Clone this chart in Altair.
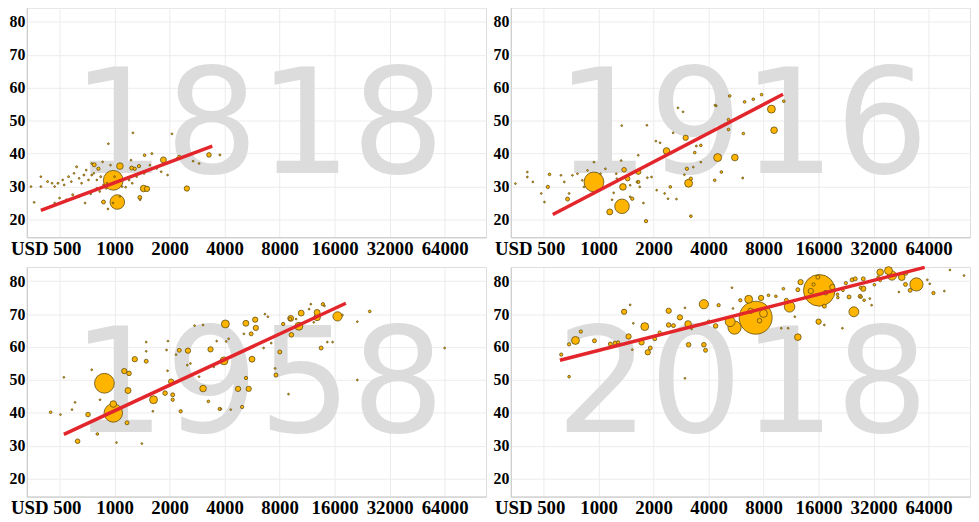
import altair as alt
import pandas as pd

years = ["1818", "1916", "1958", "2018"]
x_ticks = [500, 1000, 2000, 4000, 8000, 16000, 32000, 64000]
y_ticks = [20, 30, 40, 50, 60, 70, 80]

# (income USD, life expectancy, population in millions)
pts_1818 = [
    (984, 31.9, 500), (1035, 25.3, 270), (1070, 36.2, 56), (774, 36.6, 20), (816, 35.4, 14),
    (1443, 29.4, 56), (1505, 29.3, 36), (1851, 38.1, 45), (2487, 29.4, 36), (3285, 39.6, 27),
    (2260, 39.0, 14), (870, 25.3, 20), (1375, 26.7, 20), (1240, 35.6, 20), (1290, 35.4, 14),
    (1360, 36.2, 14), (1460, 39.5, 9),
    (1260, 46.3, 4), (2060, 46.0, 4), (925, 43.0, 4), (3770, 39.6, 5), (2690, 37.7, 4),
    (349, 30.0, 4), (363, 25.2, 4), (395, 33.0, 4), (395, 30.0, 4), (430, 31.5, 5),
    (455, 31.0, 4), (470, 30.0, 4), (490, 31.0, 5), (520, 32.0, 4), (530, 30.5, 4),
    (560, 33.0, 5), (580, 31.5, 4), (600, 34.0, 4), (620, 36.0, 5), (640, 32.5, 4),
    (660, 31.0, 4), (680, 33.5, 5), (700, 35.0, 4), (720, 32.0, 4), (750, 33.5, 5),
    (770, 34.0, 4), (800, 32.0, 4), (840, 33.0, 5), (870, 30.5, 4), (910, 31.0, 4),
    (470, 25.0, 4), (500, 26.5, 4), (545, 26.0, 4), (590, 27.5, 5), (640, 27.0, 4),
    (690, 25.0, 4), (740, 27.8, 4), (800, 29.5, 4), (830, 28.5, 4), (900, 29.5, 5),
    (920, 23.2, 4), (980, 25.0, 4), (1070, 27.0, 4), (1150, 29.8, 4), (1200, 32.0, 5),
    (1320, 33.0, 4), (1380, 26.0, 4), (1450, 34.0, 5), (1560, 36.5, 4), (1700, 35.5, 4),
    (1800, 34.5, 4), (1950, 33.5, 4), (2200, 38.5, 5), (2900, 37.0, 4), (750, 37.0, 4),
    (1100, 30.0, 4), (1250, 31.0, 4), (950, 36.5, 4), (1000, 33.0, 4), (860, 37.5, 4),
    (1230, 38.0, 4), (1600, 40.0, 5),
]

pts_1916 = [
    (944, 31.4, 500), (1344, 24.0, 270), (1152, 22.3, 45), (1360, 29.9, 56), (1380, 35.1, 27),
    (1443, 32.4, 27), (1651, 34.5, 36), (1530, 26.3, 14), (2355, 40.8, 56), (2998, 44.8, 36),
    (3110, 31.0, 80), (3045, 35.4, 14), (3200, 21.0, 9), (1820, 19.5, 14), (4485, 38.8, 80),
    (5570, 38.8, 56), (8830, 53.5, 80), (9130, 47.1, 56), (677, 26.2, 20), (528, 29.9, 14),
    (2470, 29.9, 9), (5140, 50.3, 9), (5140, 47.3, 9), (4700, 34.4, 9), (4320, 31.9, 9),
    (6300, 55.7, 9), (7030, 56.5, 9), (7800, 57.9, 9), (10320, 55.9, 9), (5220, 57.5, 9),
    (4400, 54.5, 5), (6200, 46.1, 9), (6150, 32.6, 5), (3360, 40.3, 9), (3630, 42.5, 9),
    (3430, 42.3, 5), (1650, 31.4, 14), (3200, 32.4, 14), (539, 33.7, 9),
    (2720, 53.9, 4), (2560, 46.3, 4), (2060, 43.8, 4), (2170, 43.3, 4), (1840, 48.6, 4),
    (1340, 48.5, 4), (1650, 39.5, 4), (1330, 37.9, 4), (1260, 32.4, 4), (1210, 28.1, 4),
    (1490, 26.9, 4), (1760, 25.0, 4), (1850, 32.7, 4), (2080, 28.9, 4), (2300, 27.9, 4),
    (2670, 26.2, 4), (2400, 26.3, 4), (2950, 33.6, 4), (3300, 35.9, 4), (3630, 37.4, 4),
    (408, 34.4, 4), (408, 32.9, 4), (437, 31.4, 4), (351, 30.9, 4), (486, 27.9, 4),
    (506, 25.3, 4), (623, 33.4, 4), (650, 31.4, 4), (690, 27.9, 4), (720, 33.4, 4),
    (767, 33.9, 4), (815, 31.9, 4), (833, 29.9, 4), (870, 34.9, 4), (944, 37.4, 4),
    (1025, 33.9, 4), (1090, 35.4, 4), (1140, 30.4, 4), (1185, 26.0, 4), (1250, 33.9, 4),
    (1490, 30.4, 4), (1620, 31.4, 4), (1950, 32.9, 4), (1680, 29.9, 4), (2900, 52.7, 4),
    (4340, 54.7, 5),
]

pts_1958 = [
    (880, 49.0, 500), (984, 40.0, 436), (984, 42.7, 56), (1130, 52.7, 36), (1200, 52.0, 27),
    (1185, 46.8, 45), (1290, 56.3, 36), (1170, 37.0, 20), (716, 39.5, 27), (628, 31.4, 27),
    (1634, 44.0, 80), (1490, 55.7, 20), (1890, 46.0, 27), (2040, 49.5, 36), (2080, 45.5, 20),
    (2260, 59.0, 20), (2520, 58.9, 36), (3050, 47.4, 56), (3350, 59.3, 36), (3970, 55.8, 80),
    (4040, 67.0, 80), (5230, 67.2, 45), (5880, 68.3, 36), (5930, 65.8, 36), (5650, 56.3, 45),
    (5420, 47.3, 36), (4740, 47.3, 36), (5240, 50.6, 14), (4990, 41.8, 14), (5590, 64.0, 20),
    (9200, 68.7, 45), (9280, 63.7, 27), (10200, 66.3, 80), (10500, 70.3, 45), (12830, 69.0, 56),
    (12830, 70.5, 45), (16600, 69.3, 109), (7640, 51.5, 20), (8020, 58.5, 20), (13500, 59.7, 20),
    (8370, 67.0, 14), (9140, 68.5, 14), (3760, 41.2, 14), (2300, 40.5, 14), (2080, 44.0, 14),
    (3260, 43.5, 9), (805, 33.6, 9), (447, 40.2, 9), (13800, 73.0, 14), (24900, 70.8, 9),
    (608, 43.2, 4), (506, 39.5, 4), (528, 50.8, 4), (585, 41.0, 4), (750, 53.1, 4),
    (833, 44.0, 4), (1025, 31.0, 4), (1410, 30.7, 4), (1490, 61.5, 4), (1490, 58.7, 4),
    (1620, 40.5, 4), (1925, 59.1, 4), (1960, 61.8, 4), (1950, 52.8, 4), (2170, 57.7, 4),
    (2740, 66.5, 4), (3050, 66.7, 4), (2500, 54.5, 4), (2600, 55.0, 4), (2900, 51.0, 4),
    (3490, 54.0, 4), (3620, 61.8, 4), (4080, 61.7, 4), (4210, 62.5, 4), (3820, 41.2, 4),
    (4320, 41.0, 4), (5100, 64.0, 4), (6540, 59.7, 4), (6900, 69.2, 4), (7200, 61.2, 4),
    (6650, 70.0, 4), (7560, 53.5, 4), (8950, 45.7, 4), (9850, 68.5, 4), (11600, 71.5, 4),
    (11850, 73.0, 4), (14070, 72.5, 4), (14600, 61.5, 4), (15600, 61.5, 4), (21300, 67.7, 4),
    (21300, 50.0, 4), (64000, 59.7, 4), (17650, 69.7, 4), (12300, 67.5, 4),
]

pts_2018 = [
    (7240, 68.9, 1390), (16140, 77.2, 1280), (5550, 65.9, 222), (5250, 67.7, 125), (6630, 74.5, 80),
    (7990, 70.2, 80), (7750, 74.9, 36), (3770, 73.0, 109), (3090, 67.0, 56), (3110, 60.7, 27),
    (3770, 60.7, 27), (3850, 59.0, 20), (2790, 69.0, 36), (2420, 71.0, 36), (2420, 66.7, 27),
    (2570, 66.5, 20), (1790, 66.2, 80), (1720, 61.4, 36), (1860, 58.4, 36), (1920, 59.7, 20),
    (2030, 62.5, 20), (2160, 64.4, 14), (1380, 70.7, 36), (1460, 63.2, 36), (1230, 61.2, 20),
    (1160, 60.9, 20), (1280, 61.4, 14), (950, 61.9, 20), (748, 62.0, 80), (690, 60.8, 14),
    (800, 64.7, 14), (625, 57.7, 14), (690, 51.0, 9),
    (1490, 72.8, 4), (1550, 67.2, 4), (1530, 59.2, 4), (2970, 50.5, 4), (2970, 71.9, 4),
    (3230, 65.5, 4), (4010, 67.7, 14), (4370, 66.4, 27), (4540, 72.7, 14), (5370, 78.0, 4),
    (5440, 71.7, 4), (5970, 74.2, 14), (8510, 75.7, 9), (9340, 75.4, 9), (10270, 77.7, 9),
    (10660, 74.2, 20), (11100, 72.2, 142), (12320, 63.0, 56), (12320, 77.4, 20), (12750, 79.7, 36),
    (10000, 65.7, 4), (10900, 65.7, 4), (11860, 69.2, 4), (16000, 67.7, 36), (17200, 66.7, 4),
    (21600, 65.7, 4), (19030, 78.2, 36), (17200, 72.4, 20), (15850, 81.2, 20), (20300, 76.0, 9),
    (20400, 75.0, 9), (23490, 75.2, 20), (24950, 70.7, 125), (24400, 80.4, 20), (25400, 80.7, 20),
    (28080, 77.7, 36), (27000, 75.4, 20), (27300, 75.2, 9), (30500, 74.7, 4), (31200, 72.7, 4),
    (28080, 80.7, 20), (28400, 74.2, 9), (32300, 78.9, 9), (34760, 82.7, 56), (38600, 83.2, 80),
    (40300, 81.7, 109), (45600, 81.2, 56), (48000, 82.4, 20), (54900, 79.0, 222), (50700, 77.2, 20),
    (44000, 76.7, 4), (63000, 80.4, 4), (64900, 79.2, 4), (68000, 76.4, 14), (78000, 77.0, 4),
    (83700, 83.4, 4), (100000, 81.7, 4), (47800, 79.0, 20), (34760, 80.2, 9), (33900, 81.2, 9),
    (22550, 79.4, 14), (21750, 77.2, 9), (27100, 78.0, 9), (14500, 77.0, 36), (17500, 76.5, 27),
    (15000, 79.0, 14), (6800, 71.0, 36), (7600, 68.0, 27),
]

# trend line end points (income, life expectancy)
line_inc = {"1818": [395, 3425], "1916": [562, 10220], "1958": [528, 18430], "2018": [615, 60900]}
line_life = {"1818": [22.8, 42.3], "1916": [21.5, 58.0], "1958": [33.5, 73.3], "2018": [56.0, 84.2]}

points = {"1818": pts_1818, "1916": pts_1916, "1958": pts_1958, "2018": pts_2018}

W = 464
H = 232

xscale = alt.Scale(type="log", domain=[331, 107800], nice=False)
yscale = alt.Scale(domain=[14.6, 84.3], nice=False, zero=False)

xaxis = alt.Axis(
    values=x_ticks, title=None, grid=True, gridColor="#ececec", ticks=False,
    domainColor="#c8c8c8", labelFont="Liberation Serif", labelFontWeight="bold",
    labelFontSize=19, labelColor="black", labelPadding=2, labelFlush=False,
    labelOverlap=False,
    labelExpr="datum.value == 500 ? 'USD 500' : format(datum.value, 'd')",
    labelOffset={"condition": {"test": "datum.value == 500", "value": -14}, "value": 0},
)
yaxis = alt.Axis(
    values=y_ticks, title=None, grid=True, gridColor="#ececec", ticks=False,
    domainColor="#c8c8c8", labelFont="Liberation Serif", labelFontWeight="bold",
    labelFontSize=16, labelColor="black", labelPadding=2, labelFlush=False,
)


def panel(year):
    df = pd.DataFrame(points[year], columns=["inc", "life", "pop"])
    ln = pd.DataFrame({"inc": line_inc[year], "life": line_life[year]})
    wm = alt.Chart(pd.DataFrame({"year": [year]})).mark_text(
        font="DejaVu Sans", fontSize=148, color="#dcdcdc", align="center",
        baseline="alphabetic",
    ).encode(text="year:N", x=alt.value(W / 2 + 2), y=alt.value(167))
    pts = alt.Chart(df).mark_circle(
        fill="#FFB400", stroke="#5f4d10", strokeWidth=0.8, opacity=1, fillOpacity=1
    ).encode(
        x=alt.X("inc:Q", scale=xscale, axis=xaxis),
        y=alt.Y("life:Q", scale=yscale, axis=yaxis),
        size=alt.Size("pop:Q", scale=alt.Scale(domain=[0, 1000], range=[0, 800]), legend=None),
        order=alt.Order("pop:Q", sort="descending"),
    )
    line = alt.Chart(ln).mark_line(color="#e2262b", strokeWidth=3.5).encode(
        x=alt.X("inc:Q", scale=xscale, axis=xaxis),
        y=alt.Y("life:Q", scale=yscale, axis=yaxis),
    )
    return alt.layer(wm, pts, line).properties(width=W, height=H)


chart = alt.vconcat(
    alt.hconcat(panel("1818"), panel("1916"), spacing=5),
    alt.hconcat(panel("1958"), panel("2018"), spacing=5),
    spacing=0,
).properties(
    padding={"left": 0, "top": -4, "right": 0, "bottom": 0}
).configure_view(stroke=None).configure(background="white")

chart.save("out.html", embed_options={"renderer": "svg", "actions": False})
